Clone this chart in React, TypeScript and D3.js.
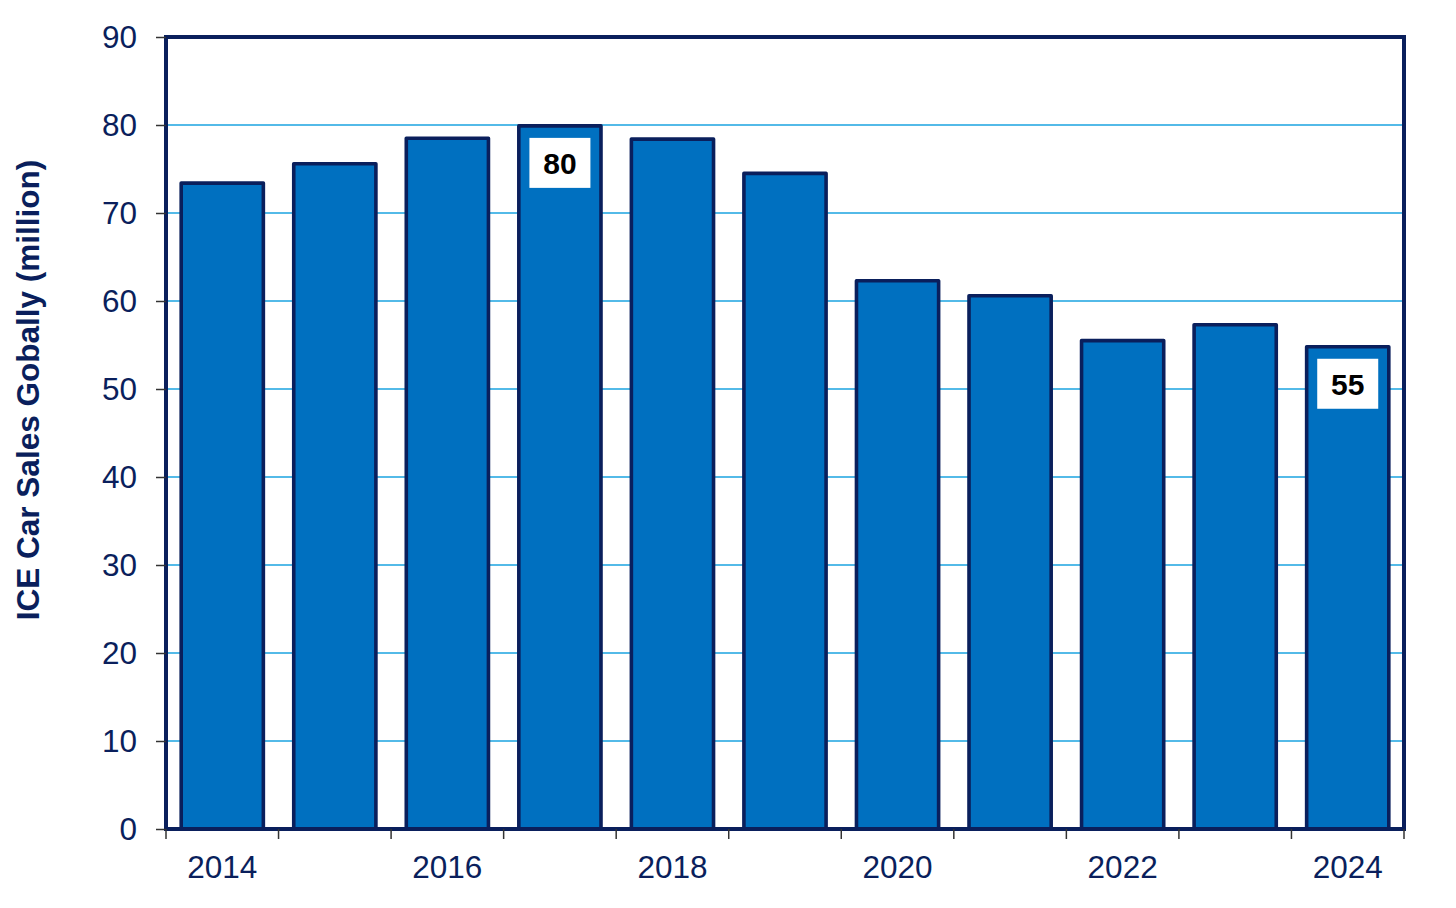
import { useEffect, useRef } from 'react'
import * as d3 from 'd3'

const YEARS = ['2014', '2015', '2016', '2017', '2018', '2019', '2020', '2021', '2022', '2023', '2024']
const SALES = [73.4, 75.6, 78.5, 79.9, 78.4, 74.5, 62.3, 60.6, 55.5, 57.3, 54.8]
const LABELS = ['', '', '', '80', '', '', '', '', '', '', '55']
const Y_TICKS = [0, 10, 20, 30, 40, 50, 60, 70, 80, 90]

const W = 1456
const H = 908
const PLOT = { left: 166, right: 1404, top: 37, bottom: 829 }
const NAVY = '#0a1f5c'
const BAR = '#0070c0'
const GRID = '#1aa3e0'
const FONT = 'Liberation Sans, Arial, sans-serif'

export default function App() {
  const svgRef = useRef<SVGSVGElement>(null)

  useEffect(() => {
    if (!svgRef.current) return
    const svg = d3.select(svgRef.current)
    svg.selectAll('*').remove()

    const x = d3.scaleBand<string>()
      .domain(YEARS)
      .range([PLOT.left, PLOT.right])
      .paddingInner(0.27)
      .paddingOuter(0.135)

    const y = d3.scaleLinear().domain([0, 90]).range([PLOT.bottom, PLOT.top])

    svg.append('rect')
      .attr('width', W).attr('height', H).attr('fill', '#fff')

    // grid lines
    svg.selectAll('.grid')
      .data(Y_TICKS.filter(t => t > 0 && t < 90))
      .enter()
      .append('line')
      .attr('x1', PLOT.left).attr('x2', PLOT.right)
      .attr('y1', d => y(d)).attr('y2', d => y(d))
      .attr('stroke', GRID).attr('stroke-width', 1.3)

    // bars
    svg.selectAll('.bar')
      .data(YEARS)
      .enter()
      .append('rect')
      .attr('x', d => x(d)!)
      .attr('width', x.bandwidth())
      .attr('y', (_, i) => y(SALES[i]))
      .attr('height', (_, i) => y(0) - y(SALES[i]))
      .attr('fill', BAR)
      .attr('stroke', NAVY)
      .attr('stroke-width', 3.6)
      .attr('stroke-linejoin', 'round')

    // value labels
    YEARS.forEach((yr, i) => {
      if (!LABELS[i]) return
      const cx = x(yr)! + x.bandwidth() / 2
      const top = y(SALES[i]) + 12
      svg.append('rect')
        .attr('x', cx - 30.5).attr('y', top)
        .attr('width', 61).attr('height', 50)
        .attr('fill', '#fff')
      svg.append('text')
        .text(LABELS[i])
        .attr('x', cx).attr('y', top + 36)
        .attr('text-anchor', 'middle')
        .attr('font-family', FONT)
        .attr('font-weight', 'bold')
        .attr('font-size', 30)
        .attr('fill', '#000')
    })

    // frame
    svg.append('rect')
      .attr('x', PLOT.left).attr('y', PLOT.top)
      .attr('width', PLOT.right - PLOT.left)
      .attr('height', PLOT.bottom - PLOT.top)
      .attr('fill', 'none')
      .attr('stroke', NAVY)
      .attr('stroke-width', 4)

    // y axis
    const yAxis = d3.axisLeft(y).tickValues(Y_TICKS).tickSize(10).tickPadding(19)
    svg.append('g')
      .attr('transform', `translate(${PLOT.left},0)`)
      .call(yAxis)
      .call(g => g.select('.domain').remove())
      .call(g => g.selectAll('line').attr('stroke', '#333').attr('stroke-width', 1.5))
      .selectAll('text')
      .attr('fill', NAVY)
      .attr('font-family', FONT)
      .attr('font-size', 31.5)

    // x axis: ticks at band boundaries
    const step = x.step()
    const bounds = d3.range(YEARS.length + 1).map(i => PLOT.left + i * step)
    svg.selectAll('.xtick')
      .data(bounds)
      .enter()
      .append('line')
      .attr('x1', d => d).attr('x2', d => d)
      .attr('y1', PLOT.bottom).attr('y2', PLOT.bottom + 10)
      .attr('stroke', '#333').attr('stroke-width', 1.5)

    svg.selectAll('.xlabel')
      .data(YEARS.filter((_, i) => i % 2 === 0))
      .enter()
      .append('text')
      .text(d => d)
      .attr('x', d => x(d)! + x.bandwidth() / 2)
      .attr('y', 878)
      .attr('text-anchor', 'middle')
      .attr('fill', NAVY)
      .attr('font-family', FONT)
      .attr('font-size', 31.5)

    // y axis title
    svg.append('text')
      .text('ICE Car Sales Gobally (million)')
      .attr('transform', `translate(39,390) rotate(-90)`)
      .attr('text-anchor', 'middle')
      .attr('fill', NAVY)
      .attr('font-family', FONT)
      .attr('font-weight', 'bold')
      .attr('font-size', 31.5)
  }, [])

  return (
    <svg
      ref={svgRef}
      width={W}
      height={H}
      style={{ position: 'absolute', left: 0, top: 0, display: 'block' }}
    />
  )
}
